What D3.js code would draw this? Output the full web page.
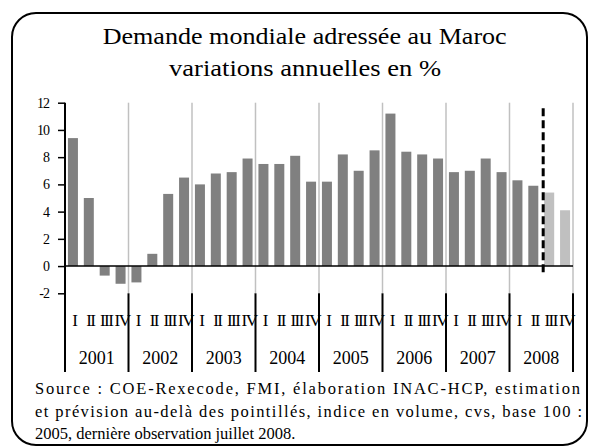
<!DOCTYPE html>
<html>
<head>
<meta charset="utf-8">
<script src="https://cdn.jsdelivr.net/npm/d3@7"></script>
<style>
  body { margin: 0; background: #fff; }
  text { font-family: "Liberation Serif", "Times New Roman", serif; fill: #000; }
</style>
</head>
<body>
<div id="chart"></div>
<script>
// data
var years = ["2001", "2002", "2003", "2004", "2005", "2006", "2007", "2008"];
var quarters = ["I", "II", "III", "IV"];
var values = [
  9.4, 5.0, -0.7, -1.3,     // 2001
  -1.2, 0.9, 5.3, 6.5,      // 2002
  6.0, 6.8, 6.9, 7.9,       // 2003
  7.5, 7.5, 8.1, 6.2,       // 2004
  6.2, 8.2, 7.0, 8.5,       // 2005
  11.2, 8.4, 8.2, 7.9,      // 2006
  6.9, 7.0, 7.9, 6.9,       // 2007
  6.3, 5.9, 5.4, 4.1        // 2008
];
var firstForecast = 30;  // index of first estimated quarter (2008 III)
var yTicks = [-2, 0, 2, 4, 6, 8, 10, 12];

var width = 589, height = 448;

var svg = d3.select("#chart").append("svg")
    .attr("width", width)
    .attr("height", height);

// frame
svg.append("rect")
    .attr("x", 12).attr("y", 13)
    .attr("width", 575).attr("height", 432)
    .attr("rx", 24).attr("ry", 24)
    .attr("fill", "none").attr("stroke", "#000").attr("stroke-width", 2);

// title
svg.append("text").attr("x", 102.7).attr("y", 43.5)
    .attr("font-size", "23px")
    .attr("textLength", 404).attr("lengthAdjust", "spacingAndGlyphs")
    .text("Demande mondiale adressée au Maroc");
svg.append("text").attr("x", 169).attr("y", 75.5)
    .attr("font-size", "23px")
    .attr("textLength", 272).attr("lengthAdjust", "spacingAndGlyphs")
    .text("variations annuelles en %");

var pLeft = 65, pRight = 573, pTop = 102.7, plotBottom = 293.3, axisBottom = 372;

var keys = [];
years.forEach(function (yr) { quarters.forEach(function (q) { keys.push(yr + q); }); });

var x = d3.scaleBand().domain(keys).range([pLeft, pRight])
    .paddingInner(0.37).paddingOuter(0.185);
var xYear = d3.scaleBand().domain(years).range([pLeft, pRight]);
var y = d3.scaleLinear().domain([-2, 12]).range([plotBottom, pTop]);

// gray year gridlines
svg.append("g").selectAll("line")
    .data(years)
    .join("line")
    .attr("x1", function (d) { return xYear(d) + xYear.bandwidth(); })
    .attr("x2", function (d) { return xYear(d) + xYear.bandwidth(); })
    .attr("y1", pTop).attr("y2", plotBottom)
    .attr("stroke", "#c0c0c0").attr("stroke-width", 1.5);

// bars
svg.append("g").selectAll("rect")
    .data(values)
    .join("rect")
    .attr("x", function (d, i) { return x(keys[i]); })
    .attr("width", x.bandwidth())
    .attr("y", function (d) { return y(Math.max(0, d)); })
    .attr("height", function (d) { return Math.abs(y(d) - y(0)); })
    .attr("fill", function (d, i) { return i >= firstForecast ? "#c0c0c0" : "#808080"; });

// zero line
svg.append("line")
    .attr("x1", pLeft).attr("x2", pRight)
    .attr("y1", y(0)).attr("y2", y(0))
    .attr("stroke", "#000").attr("stroke-width", 1.5);

// y axis
var yAxis = d3.axisLeft(y).tickValues(yTicks).tickSize(7).tickPadding(9)
    .tickFormat(function (d) { return String(d); });
var gy = svg.append("g").attr("transform", "translate(" + pLeft + ",0)").call(yAxis);
gy.select(".domain").remove();
gy.selectAll(".tick line").attr("stroke-width", 1.5);
gy.selectAll(".tick text")
    .attr("font-family", "Liberation Serif, serif")
    .attr("font-size", "14px")
    .style("letter-spacing", "-1px");
svg.append("line")
    .attr("x1", pLeft).attr("x2", pLeft)
    .attr("y1", pTop).attr("y2", axisBottom)
    .attr("stroke", "#000").attr("stroke-width", 2);

// year separators below the plot
svg.append("g").selectAll("line")
    .data(years)
    .join("line")
    .attr("x1", function (d) { return xYear(d) + xYear.bandwidth(); })
    .attr("x2", function (d) { return xYear(d) + xYear.bandwidth(); })
    .attr("y1", plotBottom).attr("y2", axisBottom)
    .attr("stroke", "#000").attr("stroke-width", 2);

// quarter labels
svg.append("g").selectAll("text")
    .data(keys)
    .join("text")
    .attr("x", function (d) { return x(d) + x.bandwidth() / 2 + 1.5; })
    .attr("y", 326)
    .attr("text-anchor", "middle")
    .attr("font-size", "17px")
    .style("letter-spacing", "-1.5px")
    .text(function (d) { return d.slice(4); });

// year labels
svg.append("g").selectAll("text")
    .data(years)
    .join("text")
    .attr("x", function (d) { return xYear(d) + xYear.bandwidth() / 2; })
    .attr("y", 364)
    .attr("text-anchor", "middle")
    .attr("font-size", "18px")
    .text(function (d) { return d; });

// forecast dashed line
var xDash = x(keys[firstForecast]) - 1;
svg.append("line")
    .attr("x1", xDash).attr("x2", xDash)
    .attr("y1", y(11.6)).attr("y2", y(-0.45))
    .attr("stroke", "#000").attr("stroke-width", 3)
    .attr("stroke-dasharray", "8,4");

// source
var src = svg.append("g").attr("font-size", "16.5px")
    .attr("font-family", "Liberation Serif, serif");
src.append("text").attr("x", 35).attr("y", 394)
    .attr("textLength", 545).attr("lengthAdjust", "spacing")
    .text("Source : COE-Rexecode, FMI, élaboration INAC-HCP, estimation");
src.append("text").attr("x", 35).attr("y", 416.5)
    .attr("textLength", 547).attr("lengthAdjust", "spacing")
    .text("et prévision au-delà des pointillés, indice en volume, cvs, base 100 :");
src.append("text").attr("x", 35).attr("y", 438.5)
    .text("2005, dernière observation juillet 2008.");
</script>
</body>
</html>
